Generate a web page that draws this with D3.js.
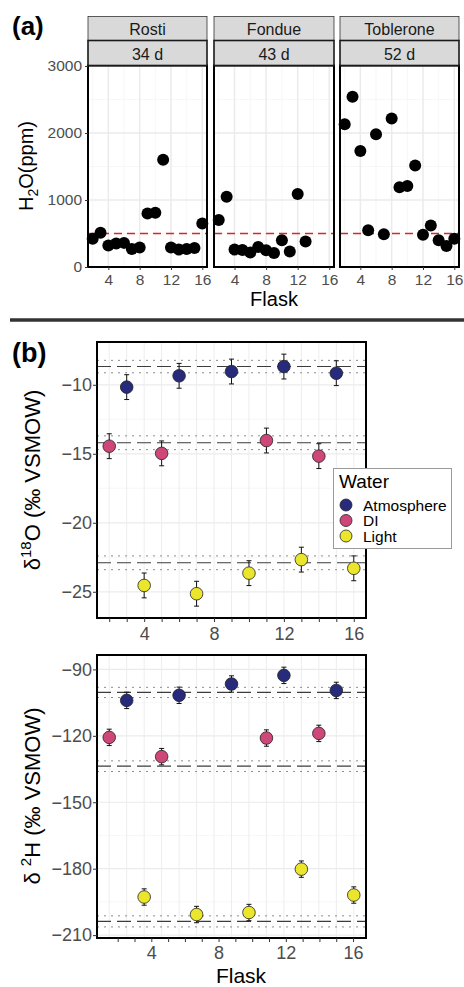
<!DOCTYPE html>
<html>
<head>
<meta charset="utf-8">
<script src="https://cdn.jsdelivr.net/npm/d3@7"></script>
<style>
  body { margin: 0; background: #fff; }
  svg { display: block; font-family: "Liberation Sans", Arial, sans-serif; }
</style>
</head>
<body>
<svg id="fig"></svg>
<script>
// ---- data: panel (a), water content per flask and trip
var trips = ["Rosti", "Fondue", "Toblerone"];
var tripDays = ["34 d", "43 d", "52 d"];
var rostiFlasks = d3.range(2, 17);
var rostiH2O = [420, 510, 320, 350, 360, 270, 290, 800, 810, 1600, 290, 260, 270, 285, 650];
var fondueFlasks = d3.range(2, 14);
var fondueH2O = [700, 1050, 260, 255, 215, 300, 250, 210, 400, 230, 1090, 380];
var tobleroneFlasks = d3.range(2, 17);
var tobleroneH2O = [2130, 2540, 1730, 550, 1980, 490, 2215, 1190, 1210, 1515, 480, 620, 400, 315, 420];
var h2oLimit = 500;
var h2oTicks = [0, 1000, 2000, 3000];
var flaskTicks = [4, 8, 12, 16];

// ---- data: panel (b), isotopes per water
var waters = ["Atmosphere", "DI", "Light"];
var waterColors = ["#272B7B", "#CF4778", "#EBE62C"];
var atmFlasks = [3, 6, 9, 12, 15];
var atmD18O = [-10.17, -9.35, -9.04, -8.68, -9.16];
var atmD2H = [-104.0, -101.7, -96.6, -92.7, -99.5];
var diFlasks = [2, 5, 11, 14];
var diD18O = [-14.45, -14.97, -14.04, -15.17];
var diD2H = [-120.7, -129.4, -121.0, -118.9];
var lightFlasks = [4, 7, 10, 13, 16];
var lightD18O = [-24.54, -25.14, -23.65, -22.67, -23.3];
var lightD2H = [-192.8, -200.7, -199.8, -180.2, -191.9];
var errD18O = 0.9;
var errD2H = 3.7;
// reference value of each water (mean and sd)
var refD18O = [-8.68, -14.2, -22.9];
var refSdD18O = [0.45, 0.5, 0.5];
var refD2H = [-100.4, -133.7, -203.8];
var refSdD2H = [2.3, 2.4, 2.5];
var d18OTicks = [-25, -20, -15, -10];
var d2HTicks = [-210, -180, -150, -120, -90];

var svg = d3.select("#fig").attr("width", 464).attr("height", 987);
svg.append("rect").attr("width", 464).attr("height", 987).attr("fill", "#fff");

var tickColor = "#4D4D4D";

function styleAxis(g, size) {
    g.select(".domain").remove();
    g.selectAll(".tick line").attr("stroke", "#333").attr("stroke-width", 1);
    g.selectAll(".tick text").attr("fill", tickColor).style("font-size", size + "px")
        .style("font-family", "Liberation Sans, Arial, sans-serif");
}

// =================== panel (a) ===================
svg.append("text").attr("x", 12).attr("y", 35)
    .style("font-size", "26px").style("font-weight", "bold").text("(a)");

var facets = [[88, 207], [214, 334], [340, 459]];
var facetData = [
    rostiFlasks.map(function (f, i) { return { flask: f, h2o: rostiH2O[i] }; }),
    fondueFlasks.map(function (f, i) { return { flask: f, h2o: fondueH2O[i] }; }),
    tobleroneFlasks.map(function (f, i) { return { flask: f, h2o: tobleroneH2O[i] }; })
];
var yA = d3.scaleLinear().domain([0, 3000]).range([267, 66]);

facets.forEach(function (f, i) {
    var xA = d3.scaleLinear().domain([1.4, 16.6]).range([f[0], f[1]]);
    var g = svg.append("g");

    // grid
    g.selectAll(".hminor").data([500, 1500, 2500]).enter().append("line")
        .attr("x1", f[0]).attr("x2", f[1]).attr("y1", yA).attr("y2", yA)
        .attr("stroke", "#F3F3F3").attr("stroke-width", 0.7);
    g.selectAll(".vminor").data([2, 6, 10, 14]).enter().append("line")
        .attr("x1", xA).attr("x2", xA).attr("y1", 66).attr("y2", 267)
        .attr("stroke", "#F3F3F3").attr("stroke-width", 0.7);
    g.selectAll(".hmajor").data(h2oTicks).enter().append("line")
        .attr("x1", f[0]).attr("x2", f[1]).attr("y1", yA).attr("y2", yA)
        .attr("stroke", "#EBEBEB").attr("stroke-width", 1.5);
    g.selectAll(".vmajor").data(flaskTicks).enter().append("line")
        .attr("x1", xA).attr("x2", xA).attr("y1", 66).attr("y2", 267)
        .attr("stroke", "#EBEBEB").attr("stroke-width", 1.5);

    // limit line
    g.append("line").attr("x1", f[0]).attr("x2", f[1])
        .attr("y1", yA(h2oLimit)).attr("y2", yA(h2oLimit))
        .attr("stroke", "#D7262B").attr("stroke-width", 1.3).attr("stroke-dasharray", "8,5");

    g.selectAll("circle").data(facetData[i]).enter().append("circle")
        .attr("cx", function (d) { return xA(d.flask); })
        .attr("cy", function (d) { return yA(d.h2o); })
        .attr("r", 6).attr("fill", "#000");

    // panel border
    g.append("rect").attr("x", f[0]).attr("y", 65.5).attr("width", f[1] - f[0]).attr("height", 267 - 65.5)
        .attr("fill", "none").attr("stroke", "#000").attr("stroke-width", 2);

    // strips
    g.append("rect").attr("x", f[0]).attr("y", 16.5).attr("width", f[1] - f[0]).attr("height", 24)
        .attr("fill", "#D9D9D9").attr("stroke", "#333").attr("stroke-width", 0.8);
    g.append("rect").attr("x", f[0]).attr("y", 40.5).attr("width", f[1] - f[0]).attr("height", 25)
        .attr("fill", "#D9D9D9").attr("stroke", "#1A1A1A").attr("stroke-width", 1.6);
    g.append("text").attr("x", (f[0] + f[1]) / 2).attr("y", 35).attr("text-anchor", "middle")
        .attr("fill", "#1A1A1A").style("font-size", "16px").text(trips[i]);
    g.append("text").attr("x", (f[0] + f[1]) / 2).attr("y", 60).attr("text-anchor", "middle")
        .attr("fill", "#1A1A1A").style("font-size", "16px").text(tripDays[i]);

    // x axis
    var xAxisA = g.append("g").attr("transform", "translate(0,267)")
        .call(d3.axisBottom(xA).tickValues(flaskTicks).tickSize(3).tickPadding(4));
    styleAxis(xAxisA, 15.5);

    if (i === 0) {
        var yAxisA = g.append("g").attr("transform", "translate(" + f[0] + ",0)")
            .call(d3.axisLeft(yA).tickValues(h2oTicks).tickFormat(d3.format("d"))
                .tickSize(3).tickPadding(3));
        styleAxis(yAxisA, 15.5);
    }
});

var h2oLabel = svg.append("text").attr("transform", "translate(33,166) rotate(-90)")
    .attr("text-anchor", "middle").style("font-size", "20px");
h2oLabel.append("tspan").text("H");
h2oLabel.append("tspan").attr("dy", 5).style("font-size", "14px").text("2");
h2oLabel.append("tspan").attr("dy", -5).text("O(ppm)");

svg.append("text").attr("x", 274).attr("y", 306).attr("text-anchor", "middle")
    .style("font-size", "20px").text("Flask");

// divider
svg.append("line").attr("x1", 10).attr("x2", 464).attr("y1", 320).attr("y2", 320)
    .attr("stroke", "#333").attr("stroke-width", 3.5);

// =================== panel (b) ===================
svg.append("text").attr("x", 12).attr("y", 362)
    .style("font-size", "27px").style("font-weight", "bold").text("(b)");

var groups = [
    { flasks: atmFlasks, d18O: atmD18O, d2H: atmD2H },
    { flasks: diFlasks, d18O: diD18O, d2H: diD2H },
    { flasks: lightFlasks, d18O: lightD18O, d2H: lightD2H }
];
var points = [];
groups.forEach(function (g, gi) {
    g.flasks.forEach(function (f, i) {
        points.push({ water: waters[gi], color: waterColors[gi], flask: f, d18O: g.d18O[i], d2H: g.d2H[i] });
    });
});

var bLeft = 97, bRight = 366;
var xB = d3.scaleLinear().domain([1.3, 16.7]).range([bLeft, bRight]);
// the lower panel's axis sits slightly offset from its grid in the original
var xB2axis = d3.scaleLinear().domain([0.77, 16.77]).range([bLeft, bRight]);

function isoPanel(top, bottom, yDomain, yTicks, key, err, refMean, refSd, axisX, tickPad) {
    var y = d3.scaleLinear().domain(yDomain).range([bottom, top]);
    var g = svg.append("g");

    // grid
    var minors = d3.pairs(yTicks).map(function (p) { return (p[0] + p[1]) / 2; });
    g.selectAll(".hminor").data(minors).enter().append("line")
        .attr("x1", bLeft).attr("x2", bRight).attr("y1", y).attr("y2", y)
        .attr("stroke", "#F3F3F3").attr("stroke-width", 0.7);
    g.selectAll(".hmajor").data(yTicks).enter().append("line")
        .attr("x1", bLeft).attr("x2", bRight).attr("y1", y).attr("y2", y)
        .attr("stroke", "#EBEBEB").attr("stroke-width", 1.2);
    g.selectAll(".vgrid").data(d3.range(2, 17)).enter().append("line")
        .attr("x1", xB).attr("x2", xB).attr("y1", top).attr("y2", bottom)
        .attr("stroke", "#EDEDED").attr("stroke-width", 1);

    // reference lines of each water
    refMean.forEach(function (m, i) {
        [m - refSd[i], m + refSd[i]].forEach(function (v) {
            g.append("line").attr("x1", bLeft).attr("x2", bRight).attr("y1", y(v)).attr("y2", y(v))
                .attr("stroke", "#8C8C8C").attr("stroke-width", 1).attr("stroke-dasharray", "2,5");
        });
        g.append("line").attr("x1", bLeft).attr("x2", bRight).attr("y1", y(m)).attr("y2", y(m))
            .attr("stroke", "#3C3C3C").attr("stroke-width", 1.1).attr("stroke-dasharray", "14,6");
    });

    // error bars
    var eb = g.selectAll(".eb").data(points).enter().append("g");
    eb.append("line")
        .attr("x1", function (d) { return xB(d.flask); }).attr("x2", function (d) { return xB(d.flask); })
        .attr("y1", function (d) { return y(d[key] - err); }).attr("y2", function (d) { return y(d[key] + err); })
        .attr("stroke", "#111").attr("stroke-width", 1);
    [-err, err].forEach(function (e) {
        eb.append("line")
            .attr("x1", function (d) { return xB(d.flask) - 2.5; }).attr("x2", function (d) { return xB(d.flask) + 2.5; })
            .attr("y1", function (d) { return y(d[key] + e); }).attr("y2", function (d) { return y(d[key] + e); })
            .attr("stroke", "#111").attr("stroke-width", 1);
    });

    g.selectAll(".pt").data(points).enter().append("circle")
        .attr("cx", function (d) { return xB(d.flask); })
        .attr("cy", function (d) { return y(d[key]); })
        .attr("r", 6.3).attr("fill", function (d) { return d.color; })
        .attr("stroke", "#222").attr("stroke-width", 0.8);

    g.append("rect").attr("x", bLeft).attr("y", top).attr("width", bRight - bLeft).attr("height", bottom - top)
        .attr("fill", "none").attr("stroke", "#000").attr("stroke-width", 2);

    var yAxis = g.append("g").attr("transform", "translate(" + bLeft + ",0)")
        .call(d3.axisLeft(y).tickValues(yTicks).tickSize(4).tickPadding(1));
    styleAxis(yAxis, 18);

    var xAxis = g.append("g").attr("transform", "translate(0," + bottom + ")")
        .call(d3.axisBottom(axisX).tickValues(d3.range(2, 17)).tickSize(4).tickPadding(tickPad)
            .tickFormat(function (d) { return d % 4 === 0 ? d : ""; }));
    styleAxis(xAxis, 18);
    return g;
}

isoPanel(342, 618, [-26.9, -6.9], d18OTicks, "d18O", errD18O, refD18O, refSdD18O, xB, 5);
isoPanel(655, 938, [-211.3, -83.5], d2HTicks, "d2H", errD2H, refD2H, refSdD2H, xB2axis, 4);

// y titles
var oLabel = svg.append("text").attr("transform", "translate(40,480) rotate(-90)")
    .attr("text-anchor", "middle").style("font-size", "22px");
oLabel.append("tspan").text("δ");
oLabel.append("tspan").attr("dy", -9).style("font-size", "15px").text("18");
oLabel.append("tspan").attr("dy", 9).text("O (‰ VSMOW)");

var hLabel = svg.append("text").attr("transform", "translate(40,796) rotate(-90)")
    .attr("text-anchor", "middle").style("font-size", "22px");
hLabel.append("tspan").text("δ ");
hLabel.append("tspan").attr("dy", -9).style("font-size", "15px").text("2");
hLabel.append("tspan").attr("dy", 9).text("H (‰ VSMOW)");

svg.append("text").attr("x", 241).attr("y", 983).attr("text-anchor", "middle")
    .style("font-size", "21px").text("Flask");

// legend
var legend = svg.append("g");
legend.append("rect").attr("x", 333.5).attr("y", 468.5).attr("width", 118).attr("height", 80)
    .attr("fill", "#fff").attr("stroke", "#9A9A9A").attr("stroke-width", 1);
legend.append("text").attr("x", 339).attr("y", 488).style("font-size", "19px").text("Water");
var items = legend.selectAll(".item").data(waters).enter().append("g")
    .attr("transform", function (d, i) { return "translate(346," + (505 + i * 15.5) + ")"; });
items.append("circle").attr("r", 6).attr("fill", function (d, i) { return waterColors[i]; })
    .attr("stroke", "#222").attr("stroke-width", 0.8);
items.append("text").attr("x", 17).attr("y", 5.5).style("font-size", "15.5px").text(function (d) { return d; });
</script>
</body>
</html>
